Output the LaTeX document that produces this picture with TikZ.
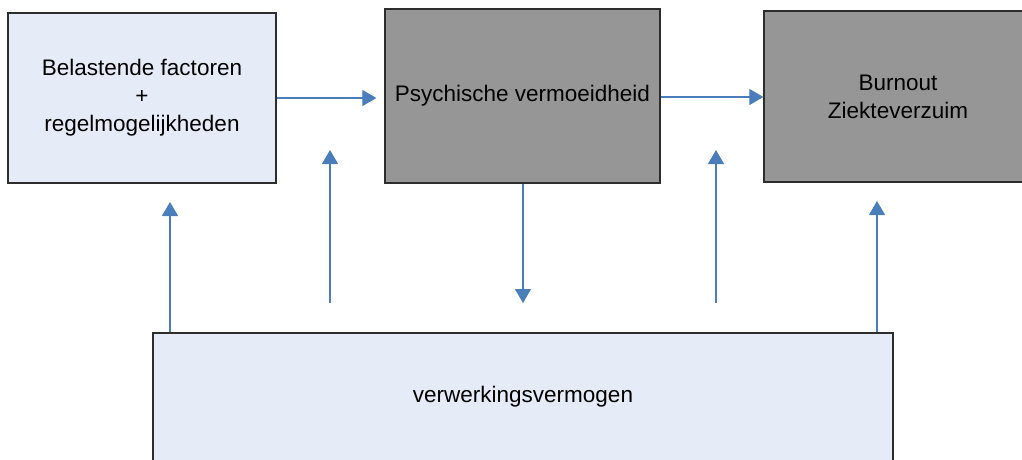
\documentclass[tikz,border=0pt]{standalone}
\usepackage{fontspec}
\setmainfont{Liberation Sans}
\usetikzlibrary{arrows.meta}
\definecolor{boxblue}{RGB}{230,236,247}
\definecolor{boxgray}{RGB}{150,150,150}
\definecolor{boxline}{RGB}{45,45,45}
\definecolor{linkblue}{RGB}{74,126,187}
\begin{document}
\begin{tikzpicture}[x=1pt,y=-1pt,
  box/.style={draw=boxline,line width=1.3pt,rectangle,inner sep=0pt,
    align=center,font=\fontsize{22.5}{28}\selectfont},
  lightbox/.style={box,fill=boxblue},
  darkbox/.style={box,fill=boxgray},
  link/.style={draw=linkblue,line width=1.2pt,
    -{Triangle[length=14pt,width=16pt]}}]
\useasboundingbox (0,0) rectangle (1022,459);
\clip (0,0) rectangle (1022,459);

% the four blocks
\node[lightbox,minimum width=268pt,minimum height=170pt] (load) at (142,98)
  {Belastende factoren\\+\\regelmogelijkheden};
\node[darkbox,minimum width=275pt,minimum height=174pt] (fatigue) at (522.5,96)
  {Psychische vermoeidheid};
\node[darkbox,minimum width=268pt,minimum height=171pt] (burnout) at (898,96.5)
  {Burnout\\Ziekteverzuim};
\node[lightbox,minimum width=740pt,minimum height=128pt] (capacity) at (523,397)
  {verwerkingsvermogen};

% free ends of the vertical links
\coordinate (upA) at (170,202);
\coordinate (baseB) at (330,303);
\coordinate (upB) at (330,150);
\coordinate (downC) at (523,303);
\coordinate (baseD) at (716,303);
\coordinate (upD) at (716,150);
\coordinate (upE) at (877,201);

% horizontal chain
\draw[link,shorten >=8pt] (load.east |- 0,98) -- (fatigue.west |- 0,98);
\draw[link] (fatigue.east |- 0,97) -- (burnout.west |- 0,97);

% vertical links
\draw[link] (capacity.north -| upA) -- (upA);
\draw[link] (baseB) -- (upB);
\draw[link] (fatigue.south -| downC) -- (downC);
\draw[link] (baseD) -- (upD);
\draw[link] (capacity.north -| upE) -- (upE);
\end{tikzpicture}
\end{document}
